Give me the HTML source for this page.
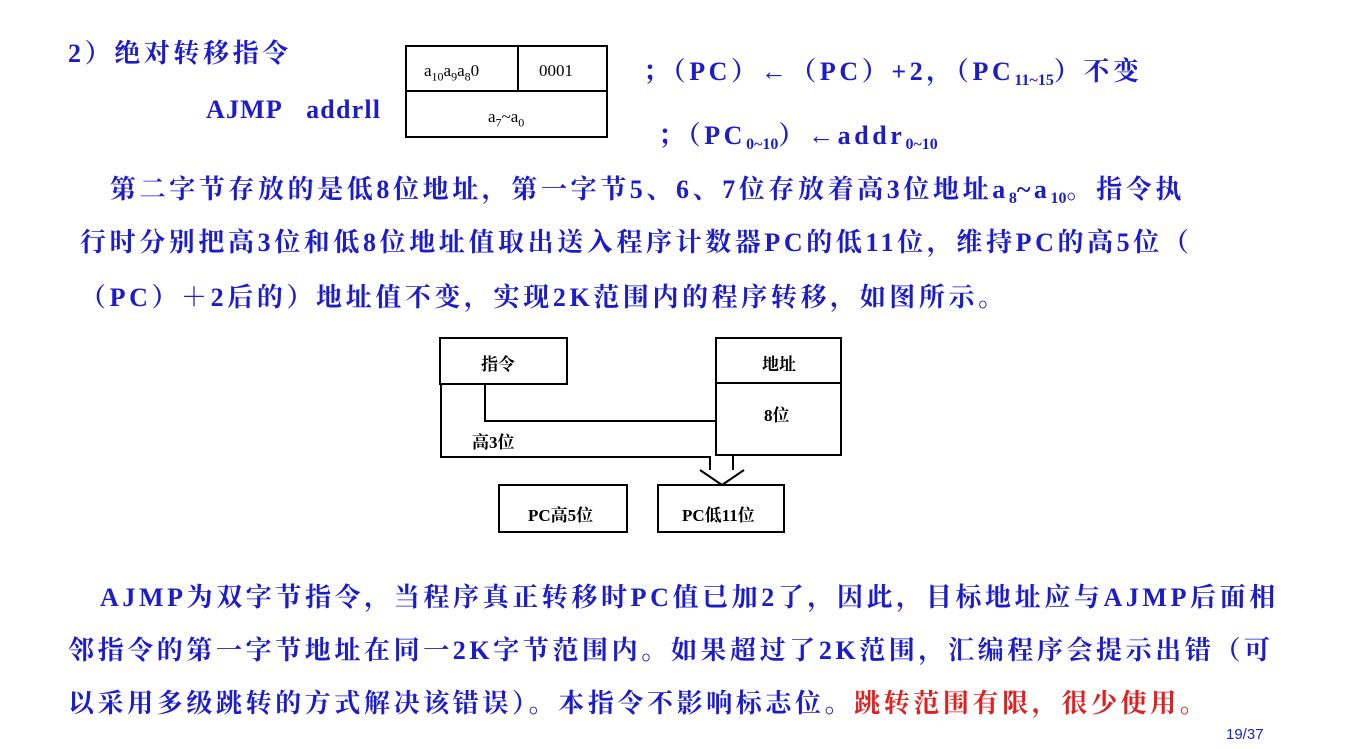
<!DOCTYPE html>
<html><head><meta charset="utf-8"><style>
body{margin:0;width:1347px;height:749px;background:#fff;overflow:hidden;position:relative;font-family:"Liberation Serif","Noto Serif CJK SC","Noto Sans CJK SC",serif}
.t{position:absolute;white-space:nowrap;color:#1c1cc8;font-weight:bold;font-size:26px;line-height:1;letter-spacing:3.6px}
.k{color:#000;font-weight:bold;font-size:17px;letter-spacing:0}
.s{font-size:16px;vertical-align:-5px;letter-spacing:0}
.n{position:absolute;white-space:nowrap;font-size:17px;color:#000;line-height:1}
.n sub{font-size:12px}
</style></head><body>
<svg width="1347" height="749" style="position:absolute;left:0;top:0" fill="none" stroke="#000" stroke-width="2">
<rect x="406" y="46" width="201" height="91"/><line x1="406" y1="91" x2="607" y2="91"/><line x1="518" y1="46" x2="518" y2="91"/>
<rect x="440" y="338" width="127" height="46"/>
<rect x="716" y="338" width="125" height="117"/><line x1="716" y1="383" x2="841" y2="383"/>
<polyline points="485,384 485,421 716,421"/>
<polyline points="441,384 441,457 710,457 710,470"/>
<polyline points="841,455 733,455 733,470"/>
<polyline points="700,470 722,485 744,470"/>
<rect x="499" y="485" width="128" height="47"/>
<rect x="658" y="485" width="126" height="47"/>
</svg>
<div class="t" style="left:68px;top:41px">2）绝对转移指令</div>
<div class="t" style="left:206px;top:97px;letter-spacing:1.2px">AJMP&nbsp;&nbsp; addrll</div>
<div class="n" style="left:424px;top:62px;font-family:'Liberation Serif',serif">a<sub>10</sub>a<sub>9</sub>a<sub>8</sub>0</div>
<div class="n" style="left:539px;top:62px;font-family:'Liberation Serif',serif">0001</div>
<div class="n" style="left:488px;top:108px;font-family:'Liberation Serif',serif">a<sub>7</sub>~a<sub>0</sub></div>
<div class="t" style="left:643px;top:59px">；（PC）←（PC）+2，（PC<span class="s">11~15</span>）不变</div>
<div class="t" style="left:658px;top:123px">；（PC<span class="s">0~10</span>）←addr<span class="s">0~10</span></div>
<div class="t" style="left:110px;top:177px">第二字节存放的是低8位地址，第一字节5、6、7位存放着高3位地址a<span class="s">8</span>~a<span class="s">10</span>。指令执</div>
<div class="t" style="left:80px;top:230px">行时分别把高3位和低8位地址值取出送入程序计数器PC的低11位，维持PC的高5位（</div>
<div class="t" style="left:80px;top:285px">（PC）＋2后的）地址值不变，实现2K范围内的程序转移，如图所示。</div>
<div class="t k" style="left:481px;top:356px">指令</div>
<div class="t k" style="left:762px;top:356px">地址</div>
<div class="t k" style="left:764px;top:407px">8位</div>
<div class="t k" style="left:472px;top:434px">高3位</div>
<div class="t k" style="left:528px;top:507px">PC高5位</div>
<div class="t k" style="left:682px;top:507px">PC低11位</div>
<div class="t" style="left:100px;top:585px">AJMP为双字节指令，当程序真正转移时PC值已加2了，因此，目标地址应与AJMP后面相</div>
<div class="t" style="left:68px;top:638px">邻指令的第一字节地址在同一2K字节范围内。如果超过了2K范围，汇编程序会提示出错（可</div>
<div class="t" style="left:68px;top:691px">以采用多级跳转的方式解决该错误）。本指令不影响标志位。<span style="color:#e02020">跳转范围有限，很少使用。</span></div>
<div style="position:absolute;left:1226px;top:726px;font:15px 'Liberation Sans',sans-serif;color:#1c1cc8">19/37</div>
</body></html>
